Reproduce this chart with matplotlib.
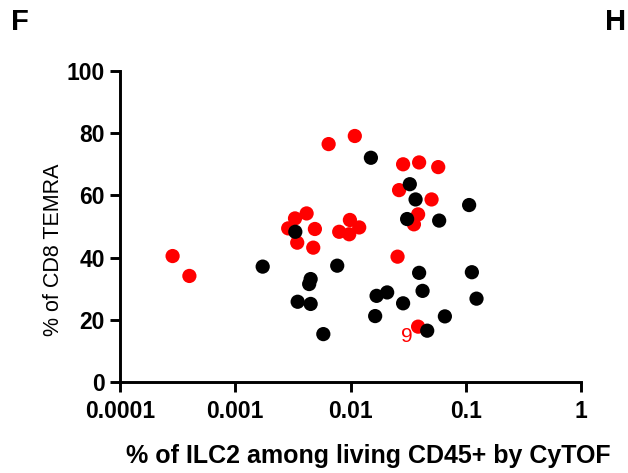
import matplotlib
matplotlib.use("Agg")
import matplotlib.pyplot as plt
import numpy as np

plt.rcParams['font.family'] = ['Liberation Sans', 'DejaVu Sans']

# Red group
red_x = [0.000286, 0.00040, 0.00646, 0.0109, 0.0033, 0.00416, 0.00288, 0.00491,
         0.00345, 0.00475, 0.00798, 0.00988, 0.00975, 0.0119, 0.0256,
         0.0286, 0.0394, 0.0577, 0.0264, 0.0505, 0.0386, 0.0355, 0.0386]
red_y = [40.5, 34.1, 76.5, 79.1, 52.6, 54.2, 49.4, 49.2,
         44.8, 43.2, 48.3, 52.1, 47.5, 49.7, 40.3,
         70.0, 70.6, 69.1, 61.7, 58.7, 53.9, 50.7, 17.8]

# Black group
black_x = [0.00173, 0.00332, 0.00767, 0.00451, 0.00438, 0.00348, 0.00451, 0.00581,
           0.01503, 0.01684, 0.0208, 0.01637,
           0.0327, 0.0367, 0.031, 0.0588, 0.107, 0.0394, 0.113, 0.0422, 0.124,
           0.0286, 0.0659, 0.0463]
black_y = [37.1, 48.3, 37.4, 33.1, 31.5, 25.8, 25.1, 15.4,
           72.1, 27.7, 28.8, 21.2,
           63.6, 58.7, 52.4, 51.9, 56.9, 35.1, 35.3, 29.3, 26.8,
           25.3, 21.1, 16.5]

label_point = (0.0386, 17.8)
label_text = "9"

x_ticks = [0.0001, 0.001, 0.01, 0.1, 1]
x_ticklabels = ["0.0001", "0.001", "0.01", "0.1", "1"]
y_ticks = [0, 20, 40, 60, 80, 100]

fig = plt.figure(figsize=(6.28, 4.73), dpi=100)
ax = fig.add_axes([120/628, (473-382)/473, 461/628, 311/473])

ax.scatter(red_x, red_y, s=105, color='#ff0000', edgecolors='none', zorder=3,
           clip_on=False)
ax.scatter(black_x, black_y, s=105, color='black', edgecolors='none', zorder=3,
           clip_on=False)

ax.annotate(label_text, xy=label_point, xytext=(-8, -7), textcoords='offset points',
            color='#ff0000', fontsize=15, ha='center', va='center')

ax.set_xscale('log')
ax.set_xlim(0.0001, 1)
ax.set_ylim(0, 100)
ax.set_xticks(x_ticks)
ax.set_xticklabels(x_ticklabels)
ax.xaxis.set_minor_locator(matplotlib.ticker.NullLocator())
ax.set_yticks(y_ticks)

for s in ['top', 'right']:
    ax.spines[s].set_visible(False)
for s in ['left', 'bottom']:
    ax.spines[s].set_linewidth(2.1)
    ax.spines[s].set_color('black')
    ax.spines[s].set_capstyle('projecting')

ax.tick_params(axis='x', which='major', length=7.5, width=2.1, direction='out',
               labelsize=16.5, pad=5.5)
ax.tick_params(axis='y', which='major', length=7.5, width=2.1, direction='out',
               labelsize=16.5, pad=3.5)
for lab in ax.get_xticklabels() + ax.get_yticklabels():
    lab.set_fontweight('bold')

fig.text(368/628, 1 - 456/473, "% of ILC2 among living CD45+ by CyTOF", fontsize=18,
         fontweight='bold', ha='center', va='center')
fig.text(54/628, 1 - 250/473, "% of CD8 TEMRA", rotation=90, fontsize=15.5,
         ha='center', va='center')

fig.text(11/628, 1 - 22/473, "F", fontsize=21, fontweight='bold', ha='left', va='center')
fig.text(605/628, 1 - 22/473, "H", fontsize=21, fontweight='bold', ha='left', va='center')

fig.savefig("out.png", dpi=100)
